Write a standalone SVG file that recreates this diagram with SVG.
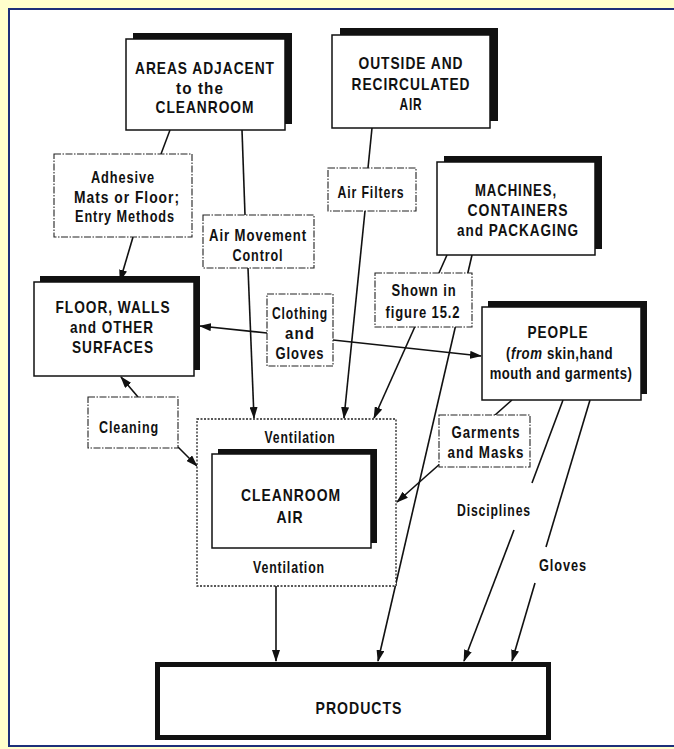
<svg xmlns="http://www.w3.org/2000/svg" width="674" height="749" viewBox="0 0 674 749">
<style>
text{font-family:"Liberation Sans",Arial,sans-serif;font-size:17px;font-weight:bold;letter-spacing:1.2px;fill:#111;text-anchor:middle}
text.s{text-anchor:start;letter-spacing:0.6px}
.box{fill:#fff;stroke:#111;stroke-width:1.5}
.sh{fill:#111}
.lbl{fill:#fff;stroke:#222;stroke-width:1.1;stroke-dasharray:7 1.5 1.5 1.5}
.vent{fill:#fff;stroke:#222;stroke-width:1.3;stroke-dasharray:2 1.5}
.c{fill:none;stroke:#111;stroke-width:1.6}
.a{marker-end:url(#ah)}
</style>
<defs>
<marker id="ah" markerUnits="userSpaceOnUse" markerWidth="12" markerHeight="8" refX="11" refY="4" orient="auto">
<path d="M0,0 L12,4 L0,8 Z" fill="#111"/>
</marker>
</defs>
<rect x="0" y="0" width="674" height="749" fill="#FFFFCC"/>
<rect x="9" y="9" width="680" height="737" fill="#fff" stroke="#1C2F7A" stroke-width="2"/>

<g id="connectors">
<line class="c" x1="170" y1="130" x2="161" y2="154"/>
<line class="c a" x1="133" y1="237" x2="120" y2="281"/>
<line class="c" x1="242" y1="130" x2="245" y2="215"/>
<line class="c a" x1="248" y1="268" x2="254" y2="418"/>
<line class="c" x1="372" y1="128" x2="368" y2="168"/>
<line class="c a" x1="365" y1="211" x2="344" y2="418"/>
<line class="c a" x1="447" y1="255" x2="374" y2="418"/>
<line class="c a" x1="472" y1="255" x2="378" y2="661"/>
<line class="c a" x1="267" y1="333" x2="200" y2="326"/>
<line class="c a" x1="333" y1="340" x2="481" y2="356"/>
<line class="c a" x1="138" y1="397" x2="121" y2="377"/>
<line class="c a" x1="178" y1="447" x2="197" y2="466"/>
<line class="c a" x1="512" y1="400" x2="397" y2="502"/>
<line class="c" x1="563" y1="400" x2="532" y2="483"/>
<line class="c a" x1="514" y1="530" x2="464" y2="661"/>
<line class="c" x1="590" y1="400" x2="546" y2="547"/>
<line class="c a" x1="535" y1="583" x2="512" y2="661"/>
<line class="c a" x1="276" y1="586" x2="276" y2="661"/>
</g>

<g id="areas">
<rect class="sh" x="133" y="33" width="159" height="91"/>
<rect class="box" x="126" y="39" width="159" height="91"/>
<text x="205" y="74" textLength="140" lengthAdjust="spacingAndGlyphs">AREAS ADJACENT</text>
<text x="200" y="94" textLength="48" lengthAdjust="spacingAndGlyphs">to the</text>
<text x="205" y="113" textLength="99" lengthAdjust="spacingAndGlyphs">CLEANROOM</text>
</g>

<g id="outside">
<rect class="sh" x="340" y="28" width="158" height="93"/>
<rect class="box" x="332" y="35" width="158" height="93"/>
<text x="411" y="69" textLength="105" lengthAdjust="spacingAndGlyphs">OUTSIDE AND</text>
<text x="411" y="90" textLength="119" lengthAdjust="spacingAndGlyphs">RECIRCULATED</text>
<text x="411" y="110" textLength="23" lengthAdjust="spacingAndGlyphs">AIR</text>
</g>

<g id="machines">
<rect class="sh" x="444" y="156" width="158" height="93"/>
<rect class="box" x="437" y="162" width="158" height="93"/>
<text x="516" y="196" textLength="82" lengthAdjust="spacingAndGlyphs">MACHINES,</text>
<text x="518" y="216" textLength="101" lengthAdjust="spacingAndGlyphs">CONTAINERS</text>
<text x="518" y="236" textLength="122" lengthAdjust="spacingAndGlyphs">and PACKAGING</text>
</g>

<g id="adhesive">
<rect class="lbl" x="54" y="154" width="138" height="83"/>
<text x="123" y="183" textLength="64" lengthAdjust="spacingAndGlyphs">Adhesive</text>
<text x="127" y="203" textLength="106" lengthAdjust="spacingAndGlyphs">Mats or Floor;</text>
<text x="125" y="222" textLength="100" lengthAdjust="spacingAndGlyphs">Entry Methods</text>
</g>

<g id="airmovement">
<rect class="lbl" x="203" y="215" width="111" height="53"/>
<text x="258" y="241" textLength="98" lengthAdjust="spacingAndGlyphs">Air Movement</text>
<text x="258" y="261" textLength="51" lengthAdjust="spacingAndGlyphs">Control</text>
</g>

<g id="airfilters">
<rect class="lbl" x="328" y="168" width="88" height="43"/>
<text x="371" y="198" textLength="67" lengthAdjust="spacingAndGlyphs">Air Filters</text>
</g>

<g id="floor">
<rect class="sh" x="40" y="276" width="160" height="94"/>
<rect class="box" x="34" y="282" width="160" height="94"/>
<text x="113" y="313" textLength="115" lengthAdjust="spacingAndGlyphs">FLOOR, WALLS</text>
<text x="112" y="333" textLength="84" lengthAdjust="spacingAndGlyphs">and OTHER</text>
<text x="113" y="353" textLength="82" lengthAdjust="spacingAndGlyphs">SURFACES</text>
</g>

<g id="clothing">
<rect class="lbl" x="267" y="294" width="66" height="72"/>
<text x="300" y="319" textLength="56" lengthAdjust="spacingAndGlyphs">Clothing</text>
<text x="300" y="339" textLength="30" lengthAdjust="spacingAndGlyphs">and</text>
<text x="300" y="359" textLength="49" lengthAdjust="spacingAndGlyphs">Gloves</text>
</g>

<g id="shownin">
<rect class="lbl" x="375" y="273" width="97" height="54"/>
<text x="424" y="296" textLength="65" lengthAdjust="spacingAndGlyphs">Shown in</text>
<text x="423" y="318" textLength="75" lengthAdjust="spacingAndGlyphs">figure 15.2</text>
</g>

<g id="people">
<rect class="sh" x="488" y="301" width="159" height="93"/>
<rect class="box" x="482" y="307" width="159" height="93"/>
<text x="558" y="338" textLength="61" lengthAdjust="spacingAndGlyphs">PEOPLE</text>
<g transform="translate(506,359) scale(0.78,1)">
<text class="s" x="0" y="0">(</text>
<text class="s" x="6.5" y="0" font-style="italic">from</text>
<text class="s" x="52.5" y="0">skin,hand</text>
</g>
<text transform="translate(561,379) scale(0.77,1)" x="0" y="0" style="letter-spacing:0.6px">mouth and garments)</text>
</g>

<g id="cleaning">
<rect class="lbl" x="88" y="397" width="90" height="51"/>
<text x="129" y="433" textLength="60" lengthAdjust="spacingAndGlyphs">Cleaning</text>
</g>

<g id="garments">
<rect class="lbl" x="439" y="415" width="91" height="52"/>
<text x="486" y="438" textLength="69" lengthAdjust="spacingAndGlyphs">Garments</text>
<text x="486" y="458" textLength="77" lengthAdjust="spacingAndGlyphs">and Masks</text>
</g>

<g id="ventilation">
<rect class="vent" x="197" y="419" width="199" height="167"/>
<text x="300" y="443" textLength="71" lengthAdjust="spacingAndGlyphs">Ventilation</text>
<text x="289" y="573" textLength="72" lengthAdjust="spacingAndGlyphs">Ventilation</text>
</g>

<g id="cleanroomair">
<rect class="sh" x="218" y="449" width="159" height="94"/>
<rect class="box" x="212" y="454" width="159" height="94"/>
<text x="291" y="501" textLength="100" lengthAdjust="spacingAndGlyphs">CLEANROOM</text>
<text x="290" y="523" textLength="27" lengthAdjust="spacingAndGlyphs">AIR</text>
</g>

<g id="disciplines">
<text x="494" y="516" textLength="74" lengthAdjust="spacingAndGlyphs">Disciplines</text>
</g>
<g id="gloves">
<text x="563" y="571" textLength="48" lengthAdjust="spacingAndGlyphs">Gloves</text>
</g>

<g id="products">
<rect x="157.5" y="664.5" width="391" height="73" fill="#fff" stroke="#111" stroke-width="5"/>
<text x="359" y="714" font-size="18" textLength="87" lengthAdjust="spacingAndGlyphs">PRODUCTS</text>
</g>
</svg>
